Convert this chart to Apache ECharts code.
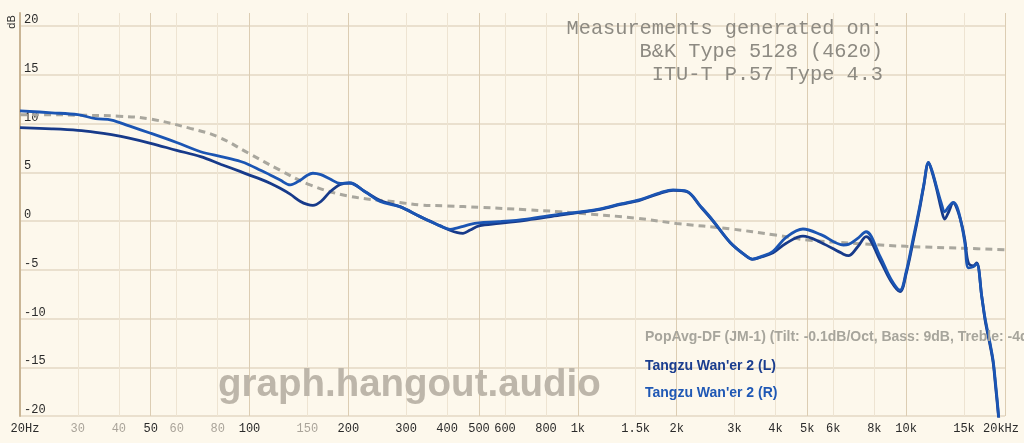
<!DOCTYPE html>
<html>
<head>
<meta charset="utf-8">
<style>
html,body{margin:0;padding:0;background:#fdf8ec;}
#chart{width:1024px;height:443px;}
</style>
<script src="https://cdn.jsdelivr.net/npm/echarts@6/dist/echarts.min.js"></script>
</head>
<body>
<div id="chart"></div>
<script>
// ---- data ----
const xTickValues = [20,30,40,50,60,80,100,150,200,300,400,500,600,800,1000,1500,2000,3000,4000,5000,6000,8000,10000,15000,20000];
const xTickLabels = ['20Hz','30','40','50','60','80','100','150','200','300','400','500','600','800','1k','1.5k','2k','3k','4k','5k','6k','8k','10k','15k','20kHz'];
const xMinorLabels = ['30','40','60','80','150'];
const xMajorLines = [20,50,100,200,500,1000,2000,5000,10000,20000];
const yTickValues = [-20,-15,-10,-5,0,5,10,15,20];

const targetName = 'PopAvg-DF (JM-1) (Tilt: -0.1dB/Oct, Bass: 9dB, Treble: -4dB)';
const leftName = "Tangzu Wan'er 2 (L)";
const rightName = "Tangzu Wan'er 2 (R)";

const targetFreq = [20,25,30,40,50,66,80,100,124,153,200,287,331,400,504,700,883,1000,1500,2000,2900,4000,5000,7000,10000,15000,20000];
const targetDb   = [10.9,10.9,10.85,10.75,10.45,9.5,8.65,6.9,5.2,3.7,2.56,1.9,1.64,1.55,1.4,1.15,0.95,0.8,0.3,-0.25,-0.8,-1.44,-1.95,-2.3,-2.6,-2.8,-2.95];

const measFreq = [20,25,30,34,38,43,50,60,71,82,94,100,108,116,124,133,143,150,156,165,176,189,202,225,250,287,331,381,408,430,447,470,500,575,700,883,1000,1170,1350,1550,1780,1950,2150,2360,2580,2910,3230,3400,3650,3930,4300,4850,5500,6440,6670,7100,7550,8320,9000,9580,10000,10500,11000,11300,11700,12000,12400,12800,13100,13500,13900,14300,14800,15100,15470,16000,16400,17000,17400,18000,18400,18700,19100,19500];
const leftDb  = [9.57,9.45,9.3,9.1,8.85,8.5,7.97,7.25,6.6,5.8,5.06,4.7,4.3,3.85,3.35,2.75,2.0,1.7,1.6,2.0,3.0,3.75,3.9,3.0,2.1,1.47,0.45,-0.5,-0.95,-1.2,-1.26,-0.92,-0.5,-0.24,0.1,0.6,0.85,1.2,1.7,2.15,2.84,3.15,3.0,1.5,0.0,-2.2,-3.5,-3.93,-3.65,-3.25,-2.3,-1.55,-2.2,-3.4,-3.56,-2.7,-1.6,-4.0,-6.2,-7.25,-5.4,-2.1,1.3,3.5,5.98,5.0,3.2,1.2,0.2,1.0,1.85,1.2,-0.5,-2.0,-4.3,-4.6,-4.3,-7.8,-10.2,-12.7,-14.5,-16.8,-20,-24];
const rightDb = [11.3,11.1,10.9,10.5,10.35,9.75,9.0,8.05,7.1,6.6,6.1,5.75,5.2,4.7,4.2,3.7,4.2,4.7,4.9,4.75,4.3,3.85,3.9,3.0,2.0,1.47,0.45,-0.5,-0.85,-0.7,-0.55,-0.34,-0.2,-0.07,0.2,0.7,0.9,1.25,1.75,2.2,2.9,3.2,3.05,1.55,0.05,-2.2,-3.5,-3.9,-3.6,-3.1,-1.7,-0.82,-1.4,-2.46,-2.4,-1.8,-1.1,-3.6,-6.0,-7.1,-5.2,-1.8,1.5,3.6,6.0,5.1,3.4,1.8,0.95,1.5,1.9,1.4,-0.6,-2.3,-4.8,-4.7,-4.4,-7.8,-10.0,-12.5,-14.3,-16.5,-19.8,-24];

// ---- chart ----
const zip = (f, d) => f.map((v, i) => [v, d[i]]);
const labelFor = {};
xTickValues.forEach((v, i) => { labelFor[v] = xTickLabels[i]; });
const vLineColors = xTickValues.map(v => xMajorLines.includes(v) ? '#dccdb3' : '#eee4d2');
const hLineColors = yTickValues.map(() => '#eae0ce').concat(['rgba(0,0,0,0)']);

const chart = echarts.init(document.getElementById('chart'), null, {renderer: 'canvas'});
const monoFont = '"Liberation Mono","DejaVu Sans Mono",monospace';
const sansFont = '"Liberation Sans",Arial,Helvetica,sans-serif';

chart.setOption({
  backgroundColor: '#fdf8ec',
  animation: false,
  grid: {left: 20, right: 19, top: 13, bottom: 27, containLabel: false},
  xAxis: {
    type: 'log', logBase: 10, min: 20, max: 20000,
    axisLine: {show: false},
    axisTick: {show: false, customValues: xTickValues},
    splitLine: {show: true, lineStyle: {color: vLineColors, width: 1}},
    minorSplitLine: {show: false},
    axisLabel: {
      customValues: xTickValues,
      margin: 7,
      fontFamily: monoFont, fontSize: 12,
      formatter: function (v) {
        const key = Math.round(v);
        const s = labelFor[key] !== undefined ? labelFor[key] : '';
        if (key === xTickValues[0]) return '{first|' + s + '}';
        if (key === xTickValues[xTickValues.length - 1]) return '{last|' + s + '}';
        return xMinorLabels.includes(s) ? '{m|' + s + '}' : '{d|' + s + '}';
      },
      rich: {
        d: {color: '#2a2a2a', fontFamily: monoFont, fontSize: 12},
        m: {color: '#aaa49a', fontFamily: monoFont, fontSize: 12},
        first: {color: '#2a2a2a', fontFamily: monoFont, fontSize: 12, padding: [0, 0, 0, 10]},
        last: {color: '#2a2a2a', fontFamily: monoFont, fontSize: 12, padding: [0, 8, 0, 0]}
      }
    }
  },
  yAxis: {
    type: 'value', min: -20, max: 20 + 13 / 9.75, interval: 5,
    axisLine: {show: true, lineStyle: {color: '#c9b595', width: 2}},
    axisTick: {show: false},
    splitLine: {show: true, lineStyle: {color: hLineColors, width: 2}},
    axisLabel: {
      inside: true, margin: 4, align: 'left', verticalAlign: 'bottom',
      color: '#2a2a2a', fontFamily: monoFont, fontSize: 12,
      formatter: v => (Math.abs(v % 5) < 1e-6 ? String(v) : '')
    }
  },
  series: [
    {
      name: targetName, type: 'line', data: zip(targetFreq, targetDb),
      smooth: 0.4, symbol: 'none',
      lineStyle: {color: '#a9a79e', width: 3, type: [7, 5]}, z: 2
    },
    {
      name: leftName, type: 'line', data: zip(measFreq, leftDb),
      smooth: 0.35, symbol: 'none',
      lineStyle: {color: '#173a8a', width: 2.8}, z: 3
    },
    {
      name: rightName, type: 'line', data: zip(measFreq, rightDb),
      smooth: 0.35, symbol: 'none',
      lineStyle: {color: '#1b55b3', width: 2.8}, z: 4
    }
  ],
  graphic: [
    {type: 'text', x: 12, y: 22, rotation: Math.PI / 2,
     style: {text: 'dB', fill: '#2a2a2a', font: '11px ' + sansFont, align: 'center', verticalAlign: 'middle'}},
    {type: 'text', x: 883, y: 29, z: 10,
     style: {text: 'Measurements generated on:', fill: '#8d8a82', font: '20.3px ' + monoFont, align: 'right', verticalAlign: 'middle'}},
    {type: 'text', x: 883, y: 52, z: 10,
     style: {text: 'B&K Type 5128 (4620)', fill: '#8d8a82', font: '20.3px ' + monoFont, align: 'right', verticalAlign: 'middle'}},
    {type: 'text', x: 883, y: 75, z: 10,
     style: {text: 'ITU-T P.57 Type 4.3', fill: '#8d8a82', font: '20.3px ' + monoFont, align: 'right', verticalAlign: 'middle'}},
    {type: 'text', x: 218, y: 385, z: 1,
     style: {text: 'graph.hangout.audio', fill: '#bdb6aa', font: 'bold 38.5px ' + sansFont, align: 'left', verticalAlign: 'middle'}},
    {type: 'text', x: 645, y: 337, z: 10,
     style: {text: targetName, fill: '#a7a59c', font: 'bold 14px ' + sansFont, align: 'left', verticalAlign: 'middle'}},
    {type: 'text', x: 645, y: 366, z: 10,
     style: {text: leftName, fill: '#1a3d8f', font: 'bold 14px ' + sansFont, align: 'left', verticalAlign: 'middle'}},
    {type: 'text', x: 645, y: 393, z: 10,
     style: {text: rightName, fill: '#1f58b5', font: 'bold 14px ' + sansFont, align: 'left', verticalAlign: 'middle'}}
  ]
});
</script>
</body>
</html>
